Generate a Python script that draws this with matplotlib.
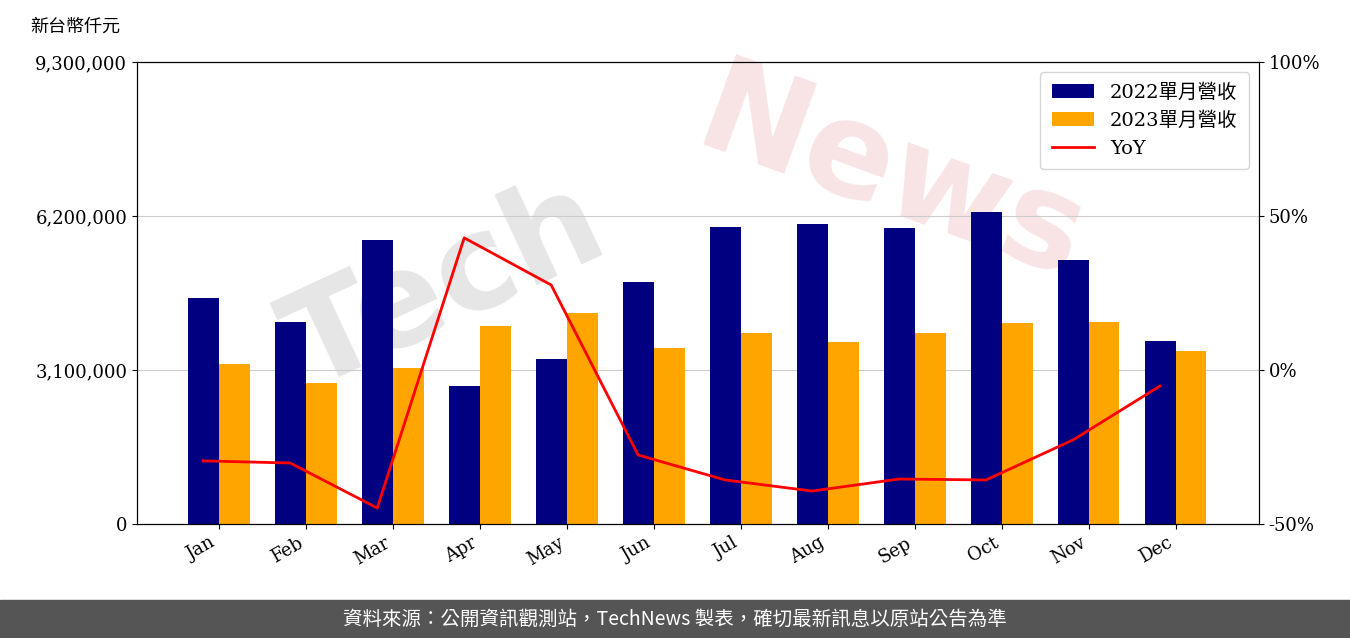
import matplotlib
matplotlib.use("Agg")
import matplotlib.pyplot as plt
import numpy as np
from matplotlib.ticker import FuncFormatter

plt.rcParams['font.family'] = ['DejaVu Serif', 'Noto Sans CJK TC']

months = ['Jan','Feb','Mar','Apr','May','Jun','Jul','Aug','Sep','Oct','Nov','Dec']
rev2022 = [4550000,4070000,5720000,2780000,3320000,4870000,5980000,6040000,5960000,6280000,5310000,3680000]
rev2023 = [3220000,2840000,3140000,3990000,4250000,3540000,3840000,3660000,3840000,4050000,4070000,3480000]
yoy = [-29.5,-30.2,-44.8,42.9,27.6,-27.6,-35.7,-39.3,-35.4,-35.7,-22.7,-5.2]

fig = plt.figure(figsize=(13.5,6.38), dpi=100)
fig.text(0.33, 0.55, 'Tech', fontsize=95, rotation=25, color='#e6e6e6',
         ha='center', va='center', fontweight='bold', family='DejaVu Sans', zorder=-2)
fig.text(0.66, 0.72, 'News', fontsize=95, rotation=-20, color='#f8e4e4',
         ha='center', va='center', fontweight='bold', family='DejaVu Sans', zorder=-2)
ax = fig.add_axes([137/1350, 1-524/638, 1122/1350, 462/638])
ax.set_facecolor('none')
x = np.arange(len(months))
w = 0.356
b1 = ax.bar(x-w/2, rev2022, w, color='#000080', label='2022單月營收', zorder=2)
b2 = ax.bar(x+w/2, rev2023, w, color='#FFA500', label='2023單月營收', zorder=2)
ax.set_ylim(0, 9300000)
ax.set_yticks([0,3100000,6200000,9300000])
ax.yaxis.set_major_formatter(FuncFormatter(lambda v,p: f'{int(v):,}'))
ax.grid(axis='y', color='#cccccc', zorder=0)
ax.set_xlim(-0.94, 11.96)
ax.set_xticks(x)
ax.set_xticklabels(months, rotation=30, ha='right')
ax.tick_params(labelsize=13)
ax2 = ax.twinx()
l, = ax2.plot(x - w/2, yoy, color='red', lw=2, label='YoY')
ax2.set_ylim(-50, 100)
ax2.set_yticks([-50,0,50,100])
ax2.yaxis.set_major_formatter(FuncFormatter(lambda v,p: f'{int(v)}%'))
ax2.tick_params(labelsize=13)
ax2.legend(handles=[b1,b2,l], loc='upper right', borderpad=0.6, handlelength=2.2,
           prop={'family':['DejaVu Serif','Noto Sans CJK TC'],'size':14})
fig.text(30/1350, 1-27/638, '新台幣仟元', fontsize=13, va='center', family=['Noto Sans CJK TC'])
fig.patches.append(plt.Rectangle((0,0),1,38/638, transform=fig.transFigure, color='#555555', zorder=5))
fig.text(0.5, 19/638, '資料來源：公開資訊觀測站，TechNews 製表，確切最新訊息以原站公告為準', color='white',
         fontsize=14, ha='center', va='center', family=['Noto Sans CJK TC'], zorder=6)
fig.savefig('out.png', dpi=100)
